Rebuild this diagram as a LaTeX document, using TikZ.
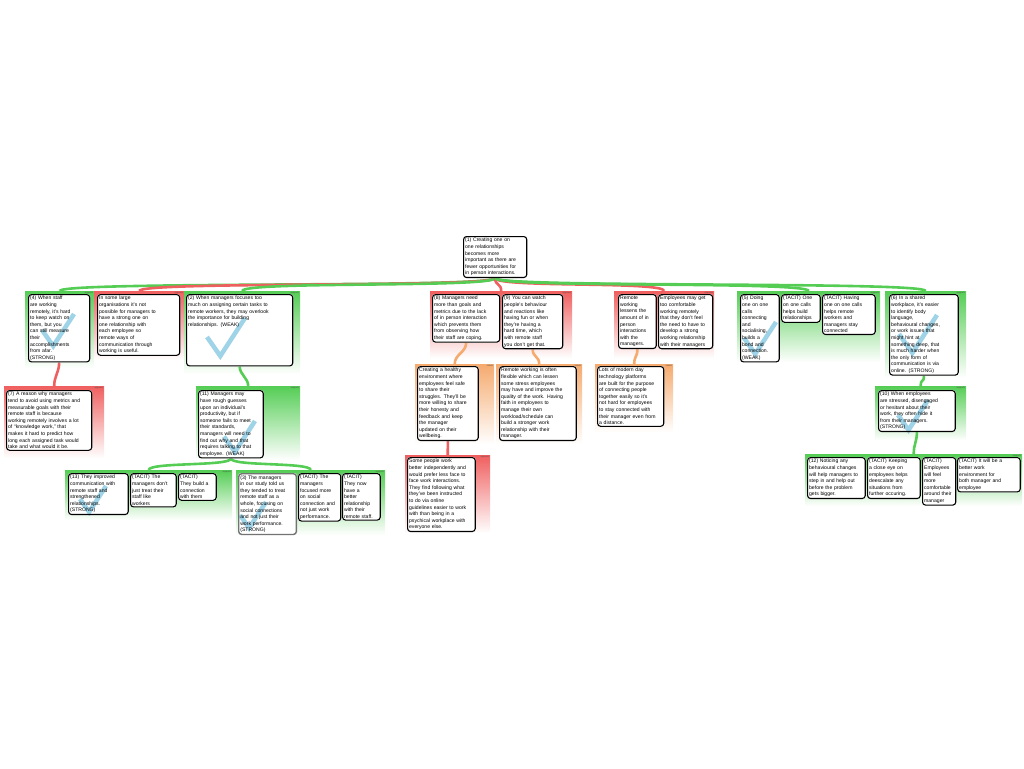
\documentclass[tikz,border=0pt]{standalone}
\usepackage{fontspec}
\setmainfont{Liberation Sans}
\usepackage{tikz}
\pgfdeclarelayer{grouplayer}
\pgfdeclarelayer{filllayer}
\pgfdeclarelayer{checklayer}
\pgfsetlayers{grouplayer,filllayer,checklayer,main}
\definecolor{supgreen}{RGB}{85,205,85}
\definecolor{oppred}{RGB}{240,95,95}
\definecolor{rebutorange}{RGB}{245,170,110}
\definecolor{tickblue}{RGB}{135,200,225}
\tikzset{
  claim/.style={draw=black, line width=1.1pt, rounded corners=3pt, align=left, anchor=north west,
    inner sep=1.6pt, font=\fontsize{5.1}{6.6}\selectfont},
  tag/.style={anchor=north east, font=\fontsize{2.2}{2.5}\selectfont, text=black!70, inner sep=1.2pt},
  group/.style={anchor=north west, inner sep=0pt, draw=none, bottom color=white},
  supgroup/.style={group, top color=supgreen, label={[tag]north east:supports}},
  oppgroup/.style={group, top color=oppred, label={[tag]north east:opposes}},
  rebgroup/.style={group, top color=rebutorange, label={[tag]north east:rebuts}},
  supline/.style={draw=supgreen, line width=2.6pt},
  oppline/.style={draw=oppred, line width=2.6pt},
  rebline/.style={draw=rebutorange, line width=2.6pt},
  tickmark/.style={draw=tickblue, line width=4.5pt, opacity=0.8}
}
% x, y, size of a check mark
\newcommand{\ticksign}[3]{\draw[tickmark] (#1,#2+#3*0.5) -- (#1+#3*0.35,#2+#3) -- (#1+#3,#2);}

\begin{document}
\begin{tikzpicture}[x=1pt,y=-1pt]
\useasboundingbox (0,0) rectangle (1024,768);

% root claim
\node[claim, text width=60pt] (root) at (463,236) {(1) Creating one on\\one relationships\\becomes more\\important as there are\\fewer opportunities for\\in person interactions.};

% first row
\node[claim, text width=58pt] (c4) at (28,294) {(4) When staff\\are working\\remotely, it's hard\\to keep watch on\\them, but you\\can still measure\\their\\accomplishments\\from afar.\\(STRONG)};
\node[claim, text width=79pt] (oLarge) at (97,294) {In some large\\organisations it's not\\possible for managers to\\have a strong one on\\one relationship with\\each employee so\\remote ways of\\communication through\\working is useful.};
\node[claim, text width=103pt] (c2) at (186,294) {(2) When managers focuses too\\much on assigning certain tasks to\\remote workers, they may overlook\\the importance for building\\relationships. (WEAK)\\\rule{0pt}{36pt}};
\node[claim, text width=64pt] (c8) at (432,294) {(8) Managers need\\more than goals and\\metrics due to the lack\\of in person interaction\\which prevents them\\from observing how\\their staff are coping.};
\node[claim, text width=57pt] (c9) at (502,294) {(9) You can watch\\people's behaviour\\and reactions like\\having fun or when\\they're having a\\hard time, which\\with remote staff\\you don't get that.};
\node[claim, text width=34.5pt] (oLess) at (618,294) {Remote\\working\\lessens the\\amount of in\\person\\interactions\\with the\\managers.};
\node[claim, text width=51pt] (oComf) at (658,294) {Employees may get\\too comfortable\\working remotely\\that they don't feel\\the need to have to\\develop a strong\\working relationship\\with their managers};
\node[claim, text width=35.5pt] (c5) at (740,294) {(5) Doing\\one on one\\calls\\connecting\\and\\socialising,\\builds a\\bond and\\connection.\\(WEAK)};
\node[claim, text width=35.5pt] (tOne) at (781,294) {(TACIT) One\\on one calls\\helps build\\relationships};
\node[claim, text width=49.5pt] (tHaving) at (822,294) {(TACIT) Having\\one on one calls\\helps remote\\workers and\\managers stay\\connected};
\node[claim, text width=65.5pt] (c6) at (889,294) {(6) In a shared\\workplace, it's easier\\to identify body\\language,\\behavioural changes,\\or work issues that\\might hint at\\something deep, that\\is much harder when\\the only form of\\communication is via\\online. (STRONG)};

% second row
\node[claim, text width=82pt] (c7) at (6,390) {(7) A reason why managers\\tend to avoid using metrics and\\measurable goals with their\\remote staff is because\\working remotely involves a lot\\of ``knowledge work,'' that\\makes it hard to predict how\\long each assigned task would\\take and what would it be.};
\node[claim, text width=61.5pt] (c11) at (198,390) {(11) Managers may\\have rough guesses\\upon an individual's\\productivity, but if\\someone fails to meet\\their standards,\\managers will need to\\find out why and that\\requires talking to that\\employee. (WEAK)};
\node[claim, text width=57.5pt] (rHealthy) at (417,366) {Creating a healthy\\environment where\\employees feel safe\\to share their\\struggles. They'll be\\more willing to share\\their honesty and\\feedback and keep\\the manager\\updated on their\\wellbeing.};
\node[claim, text width=73.5pt] (rFlexible) at (499,366) {Remote working is often\\flexible which can lessen\\some stress employees\\may have and improve the\\quality of the work. Having\\faith in employees to\\manage their own\\workload/schedule can\\build a stronger work\\relationship with their\\manager.};
\node[claim, text width=63pt] (rTech) at (597,366) {Lots of modern day\\technology platforms\\are built for the purpose\\of connecting people\\together easily so it's\\not hard for employees\\to stay connected with\\their manager even from\\a distance.};
\node[claim, text width=73.5pt] (c10) at (878,390) {(10) When employees\\are stressed, disengaged\\or hesitant about their\\work, they often hide it\\from their managers.\\(STRONG)};

% third row
\node[claim, text width=56.5pt] (c13) at (68,473) {(13) They improved\\communication with\\remote staff and\\strengthened\\relationships.\\(STRONG)};
\node[claim, text width=42.5pt] (tTreat) at (130,473) {(TACIT) The\\managers don't\\just treat their\\staff like\\workers};
\node[claim, text width=34.5pt] (tBuild) at (178,473) {(TACIT)\\They build a\\connection\\with them};
\node[claim, text width=54.5pt, draw=black!55, line width=1.4pt] (c3) at (238,473) {(3) The managers\\in our study told us\\they tended to treat\\remote staff as a\\whole, focusing on\\social connections\\and not just their\\work performance.\\(STRONG)};
\node[claim, text width=39pt] (tFocus) at (298,473) {(TACIT) The\\managers\\focused more\\on social\\connection and\\not just work\\performance.};
\node[claim, text width=34.5pt] (tNow) at (342,473) {(TACIT)\\They now\\have a\\better\\relationship\\with their\\remote staff.};
\node[claim, text width=64.5pt] (oIndep) at (407,457) {Some people work\\better independently and\\would prefer less face to\\face work interactions.\\They find following what\\they've been instructed\\to do via online\\guidelines easier to work\\with than being in a\\psychical workplace with\\everyone else.};
\node[claim, text width=54.5pt] (c12) at (807,457) {(12) Noticing any\\behavioural changes\\will help managers to\\step in and help out\\before the problem\\gets bigger.};
\node[claim, text width=49.5pt] (tKeep) at (867,457) {(TACIT) Keeping\\a close eye on\\employees helps\\deescalate any\\situations from\\further occuring.};
\node[claim, text width=30pt] (tEmpl) at (922,457) {(TACIT)\\Employees\\will feel\\more\\comfortable\\around their\\manager};
\node[claim, text width=59.5pt] (tBetter) at (957,457) {(TACIT) It will be a\\better  work\\environment for\\both manager and\\employee};

\begin{pgfonlayer}{grouplayer}
% groups
\node[supgroup, minimum width=69pt, minimum height=77pt] (g1) at (25,291) {};
\node[oppgroup, minimum width=90pt, minimum height=69pt] (g2) at (94,291) {};
\node[supgroup, minimum width=116pt, minimum height=83pt] (g3) at (184,291) {};
\node[oppgroup, minimum width=142pt, minimum height=67pt] (g4) at (430,291) {};
\node[oppgroup, minimum width=100pt, minimum height=67pt] (g5) at (614,291) {};
\node[supgroup, minimum width=143pt, minimum height=71pt] (g6) at (737,291) {};
\node[supgroup, minimum width=81pt, minimum height=87pt] (g7) at (885,291) {};
\node[oppgroup, minimum width=100pt, minimum height=72pt] (g8) at (4,386) {};
\node[supgroup, minimum width=104pt, minimum height=74pt] (g9) at (196,386) {};
\node[rebgroup, minimum width=79pt, minimum height=80pt] (g10) at (415,364) {};
\node[rebgroup, minimum width=86pt, minimum height=80pt] (g11) at (496,364) {};
\node[rebgroup, minimum width=78pt, minimum height=68pt] (g12) at (595,364) {};
\node[supgroup, minimum width=91pt, minimum height=54pt] (g13) at (875,386) {};
\node[supgroup, minimum width=167pt, minimum height=50pt] (g14) at (65,470) {};
\node[supgroup, minimum width=149pt, minimum height=65pt] (g15) at (236,470) {};
\node[oppgroup, minimum width=85pt, minimum height=78pt] (g16) at (405,455) {};
\node[supgroup, minimum width=217pt, minimum height=52pt] (g17) at (805,454) {};

% connectors
\draw[supline] (root.south) .. controls +(0,10) and +(0,-10) .. (g1.north);
\draw[oppline] (root.south) .. controls +(0,10) and +(0,-10) .. (g2.north);
\draw[supline] (root.south) .. controls +(0,10) and +(0,-10) .. (g3.north);
\draw[oppline] (root.south) .. controls +(0,8) and +(0,-8) .. (g4.north);
\draw[oppline] (root.south) .. controls +(0,10) and +(0,-10) .. (g5.north);
\draw[supline] (root.south) .. controls +(0,10) and +(0,-10) .. (g6.north);
\draw[supline] (root.south) .. controls +(0,10) and +(0,-10) .. (g7.north);
\draw[oppline] (c4.south) .. controls +(0,10) and +(0,-10) .. (g8.north);
\draw[supline] (c2.south) .. controls +(0,8) and +(0,-8) .. (g9.north);
\draw[rebline] (c8.south) .. controls +(0,10) and +(0,-10) .. (g10.north);
\draw[rebline] (c9.south) .. controls +(0,8) and +(0,-8) .. (g11.north);
\draw[rebline] (oLess.south) .. controls +(0,8) and +(0,-8) .. (g12.north);
\draw[supline] (c6.south) .. controls +(0,8) and +(0,-8) .. (g13.north);
\draw[supline] (c11.south) .. controls +(0,8) and +(0,-8) .. (g14.north);
\draw[supline] (c11.south) .. controls +(0,8) and +(0,-8) .. (g15.north);
\draw[oppline] (rHealthy.south) .. controls +(0,6) and +(0,-6) .. (g16.north);
\draw[supline] (c10.south) .. controls +(0,10) and +(0,-10) .. (g17.north);
\end{pgfonlayer}

\begin{pgfonlayer}{filllayer}
\foreach \b in {root,c4,oLarge,c2,c8,c9,oLess,oComf,c5,tOne,tHaving,c6,c7,c11,rHealthy,rFlexible,rTech,c10,c13,tTreat,tBuild,c3,tFocus,tNow,oIndep,c12,tKeep,tEmpl,tBetter}
  \fill[white, rounded corners=3pt] (\b.south west) rectangle (\b.north east);
\end{pgfonlayer}

\begin{pgfonlayer}{checklayer}
\ticksign{42}{314}{32}
\ticksign{207}{318}{38}
\ticksign{744}{322}{32}
\ticksign{899}{315}{38}
\ticksign{224}{421}{31}
\ticksign{80}{486}{26}
\ticksign{240}{502}{26}
\ticksign{898}{400}{30}
\end{pgfonlayer}
\end{tikzpicture}
\end{document}
